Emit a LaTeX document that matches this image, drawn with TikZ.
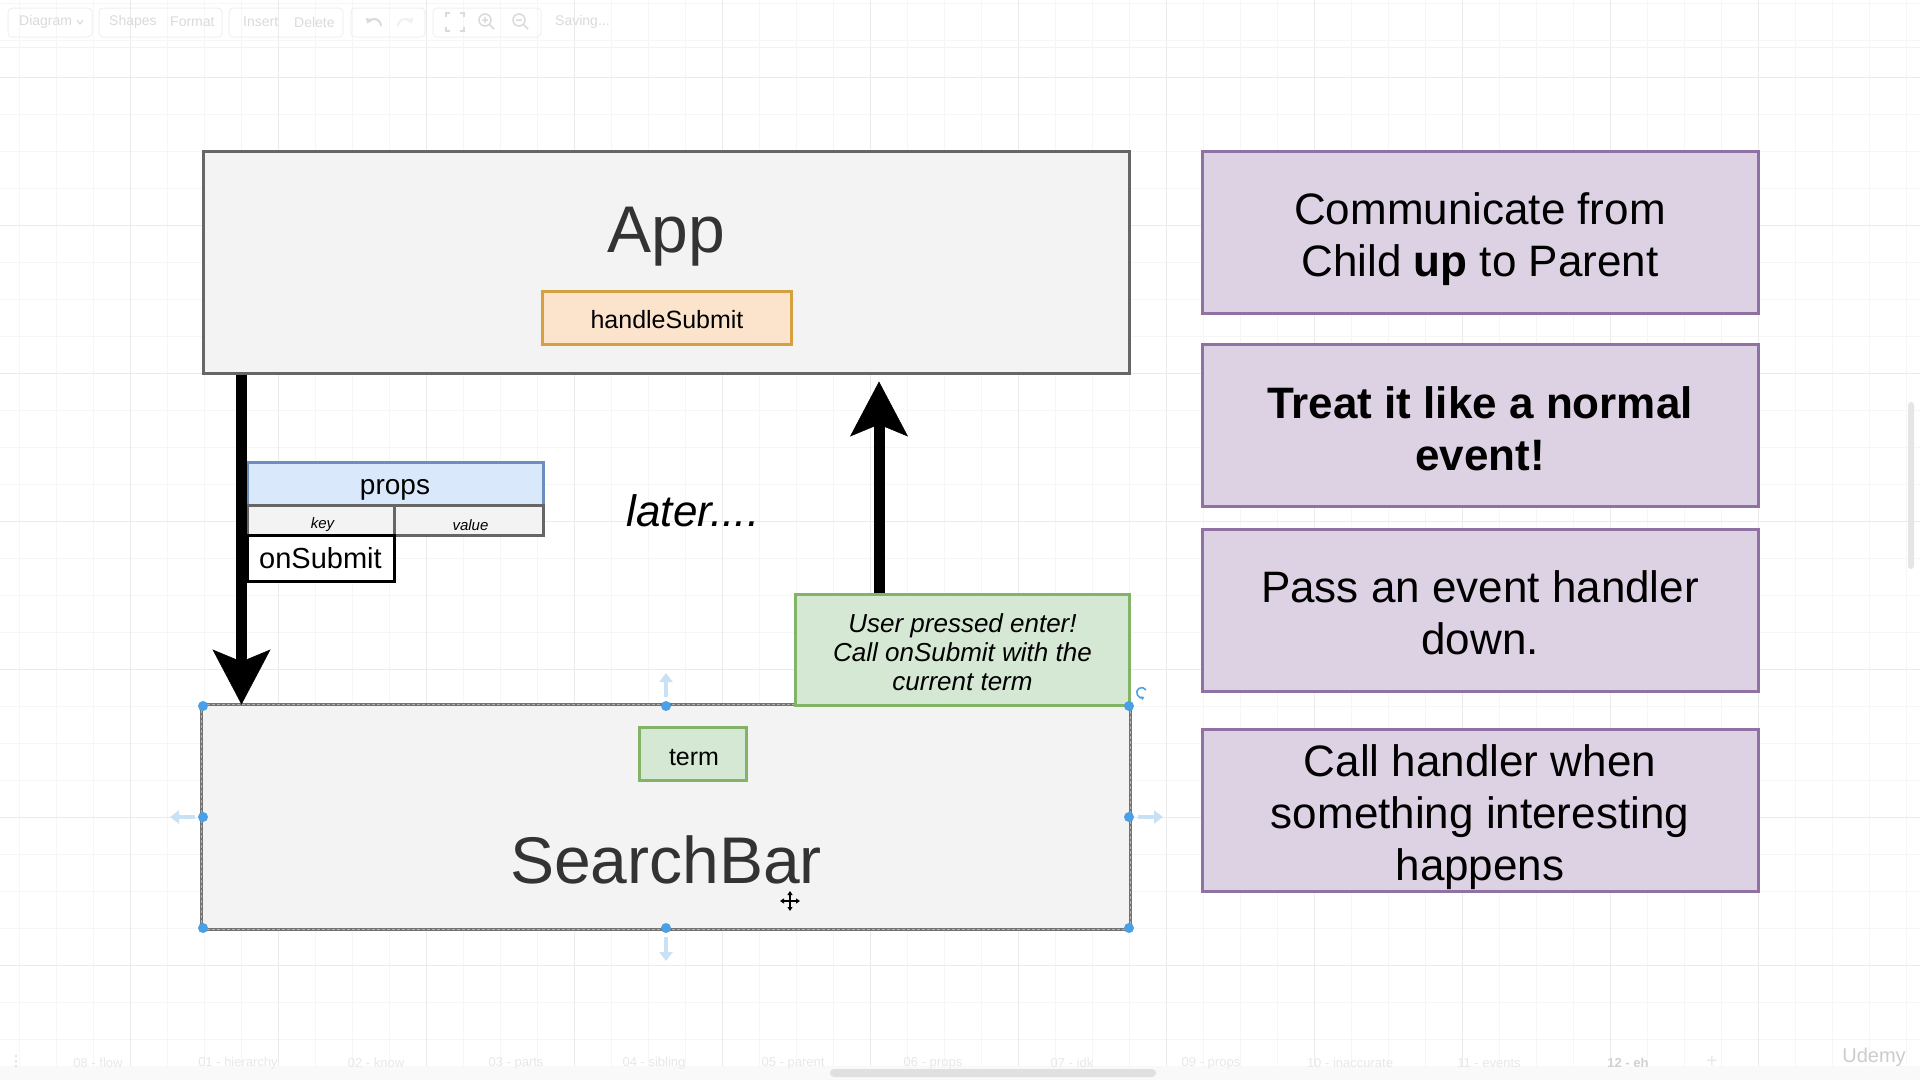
\documentclass[tikz,border=0pt]{standalone}
\usepackage{fontspec}
\setmainfont{Liberation Sans}
\usetikzlibrary{arrows.meta,calc}
\definecolor{appfill}{HTML}{F3F3F3}
\definecolor{appdraw}{HTML}{666666}
\definecolor{apptext}{HTML}{333333}
\definecolor{orfill}{HTML}{FCE4CC}
\definecolor{ordraw}{HTML}{D4A040}
\definecolor{grfill}{HTML}{D5E8D4}
\definecolor{grdraw}{HTML}{82B366}
\definecolor{blfill}{HTML}{DAE8FC}
\definecolor{bldraw}{HTML}{6C8EBF}
\definecolor{pufill}{HTML}{DDD1E4}
\definecolor{pudraw}{HTML}{8F72A3}
\definecolor{handleblue}{HTML}{4AA0E6}
\definecolor{hoverblue}{HTML}{C8E1F5}
\definecolor{uitext}{HTML}{DADADA}
\begin{document}
\begin{tikzpicture}[x=1pt,y=-1pt,
  gridminor/.style={draw=black!3.5,line width=1pt},
  gridmajor/.style={draw=black!8,line width=1pt},
  compbox/.style={draw=appdraw,fill=appfill,line width=3pt,inner sep=0pt},
  bigtext/.style={font=\fontsize{66}{70}\selectfont,text=apptext,inner sep=0pt},
  orbox/.style={draw=ordraw,fill=orfill,line width=3pt,inner sep=0pt,font=\fontsize{25}{29}\selectfont},
  grbox/.style={draw=grdraw,fill=grfill,line width=3pt,inner sep=0pt},
  cellblue/.style={draw=bldraw,fill=blfill,line width=3pt,inner sep=0pt},
  cellgray/.style={draw=appdraw,fill=appfill,line width=3pt,inner sep=0pt},
  cellwhite/.style={draw=black,fill=white,line width=3pt,inner sep=0pt,font=\fontsize{29}{33}\selectfont},
  pubox/.style={draw=pudraw,fill=pufill,line width=3pt,inner sep=0pt,minimum width=556pt,minimum height=162pt},
  putext/.style={inner sep=0pt,align=center,font=\fontsize{44}{52}\selectfont},
  celltext/.style={inner sep=0pt},
  bigarrow/.style={line width=11pt,-{Stealth[length=55pt,width=58pt,inset=12pt,line width=0.5pt]}},
  handle/.style={fill=handleblue},
  hover/.style={draw=hoverblue,line width=4pt,-{Triangle[length=9pt,width=13pt]}},
  uilabel/.style={text=uitext,inner sep=0pt,font=\fontsize{14}{16}\selectfont},
  tablabel/.style={text=black!9,inner sep=0pt,font=\fontsize{13}{15}\selectfont},
  uibtn/.style={draw=black!6,line width=1pt,rounded corners=4pt}
]
\useasboundingbox (0,0) rectangle (1920,1080);
\fill[white] (0,0) rectangle (1920,1080);
% grid
\foreach \k in {0,...,51} {\draw[gridminor] ({19+37*\k},0) -- ({19+37*\k},1080);}
\foreach \k in {0,...,29} {\draw[gridminor] (0,{3+37*\k}) -- (1920,{3+37*\k});}
\foreach \k in {0,...,11} {\draw[gridmajor] ({130+148*\k},0) -- ({130+148*\k},1080);}
\foreach \k in {0,...,6} {\draw[gridmajor] (0,{77+148*\k}) -- (1920,{77+148*\k});}
% toolbar
\draw[draw=black!5,line width=1pt] (0,47) -- (1920,47);
\draw[uibtn] (8,8) rectangle (92,37);
\draw[uibtn] (99,8) rectangle (222,37);
\draw[uibtn] (229,8) rectangle (343,37);
\draw[uibtn] (351,8) rectangle (425,37);
\draw[uibtn] (433,8) rectangle (541,37);
\node[uilabel,anchor=west] (tDiagram) at (19,22) {Diagram};
\draw[uitext,line width=1pt] (77,20) -- (80,24) -- (83,20);
\node[uilabel,anchor=west] (tShapes) at (109,22) {Shapes};
\node[uilabel,anchor=west] (tFormat) at (170,22) {Format};
\node[uilabel,anchor=west] (tInsert) at (243,22) {Insert};
\node[uilabel,anchor=west] (tDelete) at (294,22) {Delete};
\draw[uitext,line width=2pt,-{Triangle[length=5pt,width=7pt]}] (381,26) arc[start angle=0,end angle=160,radius=7pt];
\draw[black!6,line width=2pt,-{Triangle[length=5pt,width=7pt]}] (398,26) arc[start angle=180,end angle=20,radius=7pt];
\draw[uitext,line width=1.5pt] (446,17) -- (446,13) -- (450,13) (460,13) -- (464,13) -- (464,17) (464,27) -- (464,31) -- (460,31) (450,31) -- (446,31) -- (446,27);
\draw[uitext,line width=1.5pt] (485,20) circle[radius=6pt] (489,24) -- (494,29) (482,20) -- (488,20) (485,17) -- (485,23);
\draw[uitext,line width=1.5pt] (519,20) circle[radius=6pt] (523,24) -- (528,29) (516,20) -- (522,20);
\node[uilabel,anchor=west] (tSaving) at (555,22) {Saving...};
% bottom bar
\fill[black!2.5] (0,1066) rectangle (1920,1080);
\fill[black!12,rounded corners=4pt] (830,1069) rectangle (1156,1077);
\fill[black!10,rounded corners=3pt] (1908,402) rectangle (1914,569);
\foreach \yy in {1056,1061,1066} {\fill[black!10] (16,\yy) circle[radius=1.5pt];}
\node[tablabel] (tab0) at (98,1063) {08 - flow};
\node[tablabel] (tab1) at (238,1063) {01 - hierarchy};
\node[tablabel] (tab2) at (376,1063) {02 - know};
\node[tablabel] (tab3) at (516,1063) {03 - parts};
\node[tablabel] (tab4) at (654,1063) {04 - sibling};
\node[tablabel] (tab5) at (793,1063) {05 - parent};
\node[tablabel] (tab6) at (933,1063) {06 - props};
\node[tablabel] (tab7) at (1072,1063) {07 - idk};
\node[tablabel] (tab9) at (1211,1063) {09 - props};
\node[tablabel] (tab10) at (1350,1063) {10 - inaccurate};
\node[tablabel] (tab11) at (1489,1063) {11 - events};
\node[tablabel,text=black!18,font=\bfseries\fontsize{13}{15}\selectfont] (tab12) at (1628,1063) {12 - eh};
\node[tablabel,font=\fontsize{20}{22}\selectfont] (tabplus) at (1712,1062) {+};
\node[inner sep=0pt,text=black!20,font=\fontsize{20}{22}\selectfont] (udemy) at (1874,1057) {Udemy};
% App
\node[compbox,minimum width=926pt,minimum height=222pt] (app) at (666,262) {};
\node[bigtext,anchor=base] (applabel) at (666,252) {App};
\node[orbox,minimum width=249pt,minimum height=53pt] (hs) at (667,317.5) {};
\node[celltext,font=\fontsize{25}{29}\selectfont] (hslabel) at ($(hs.center)+(0,2)$) {handleSubmit};
% SearchBar
\node[compbox,draw=none,minimum width=926pt,minimum height=222pt] (sb) at (666,817) {};
\draw[draw=black!55,line width=3pt] (sb.north west) rectangle (sb.south east);
\draw[draw=white!70!black,line width=1pt,dash pattern=on 3pt off 2pt] (sb.north west) rectangle (sb.south east);
\node[bigtext,anchor=base] (sblabel) at (666,883) {SearchBar};
\node[grbox,minimum width=107pt,minimum height=53pt] (term) at (692.5,754) {};
\node[celltext,font=\fontsize{25}{29}\selectfont] (termlabel) at ($(term.center)+(1.5,4)$) {term};
% note
\node[grbox,minimum width=334pt,minimum height=111pt] (note) at (962.5,650) {};
\node[celltext,align=center,font=\itshape\fontsize{26}{29}\selectfont] (notelabel) at ($(note.center)+(0,2.5)$) {User pressed enter!\\Call onSubmit with the\\current term};
% props table
\node[cellblue,minimum width=296pt,minimum height=43pt] (props) at (395,483.5) {};
\node[celltext,font=\fontsize{28}{32}\selectfont] (propslabel) at ($(props.center)+(0,6)$) {props};
\node[cellgray,minimum width=147pt,minimum height=30pt] (key) at (320.5,520) {};
\node[cellgray,minimum width=149pt,minimum height=30pt] (value) at (468.5,520) {};
\node[celltext,font=\itshape\fontsize{15}{17}\selectfont] (keylabel) at ($(key.center)+(2,5)$) {key};
\node[celltext,font=\itshape\fontsize{15}{17}\selectfont] (valuelabel) at ($(value.center)+(2,5)$) {value};
\node[cellwhite,minimum width=147pt,minimum height=46pt] (onsub) at (320.5,558) {onSubmit};
% later
\node[inner sep=0pt,font=\itshape\fontsize{44}{48}\selectfont] (later) at (693,511) {later....};
% arrows
\coordinate (dx) at (241.5,500);
\coordinate (ux) at (879,500);
\draw[bigarrow] (app.south -| dx) -- (sb.north -| dx);
\draw[bigarrow,shorten >=7pt] (note.north -| ux) -- (app.south -| ux);
% selection handles
\foreach \p in {(203,706),(666,706),(1129,706),(203,817),(1129,817),(203,928),(666,928),(1129,928)} {\fill[handle] \p circle[radius=5pt];}
\coordinate (ht0) at (666,697); \coordinate (ht1) at (666,673);
\coordinate (hb0) at (666,937); \coordinate (hb1) at (666,961);
\coordinate (hl0) at (195,817); \coordinate (hl1) at (170,817);
\coordinate (hr0) at (1138,817); \coordinate (hr1) at (1163,817);
\draw[hover] (ht0) -- (ht1);
\draw[hover] (hb0) -- (hb1);
\draw[hover] (hl0) -- (hl1);
\draw[hover] (hr0) -- (hr1);
\draw[handleblue,line width=1.5pt,-{Triangle[length=3pt,width=4pt]}] (1146,690) arc[start angle=30,end angle=300,radius=5pt];
% cursor
\draw[black,line width=1.5pt,{Triangle[length=4pt,width=5pt]}-{Triangle[length=4pt,width=5pt]}] (790,891) -- (790,911);
\draw[black,line width=1.5pt,{Triangle[length=4pt,width=5pt]}-{Triangle[length=4pt,width=5pt]}] (780,901) -- (800,901);
% right panel
\node[pubox] (p1) at (1480,232) {};
\node[putext] (p1label) at ($(p1.center)+(0,7)$) {Communicate from\\Child \textbf{up} to Parent};
\node[pubox] (p2) at (1480,425) {};
\node[putext,font=\bfseries\fontsize{44}{52}\selectfont] (p2label) at ($(p2.center)+(0,3.5)$) {Treat it like a normal\\event!};
\node[pubox] (p3) at (1480,610.5) {};
\node[putext] (p3label) at ($(p3.center)+(0,2.5)$) {Pass an event handler\\down.};
\node[pubox] (p4) at (1480,810) {};
\node[putext] (p4label) at ($(p4.center)+(0,7)$) {Call handler when\\something interesting\\happens};
\end{tikzpicture}
\end{document}
